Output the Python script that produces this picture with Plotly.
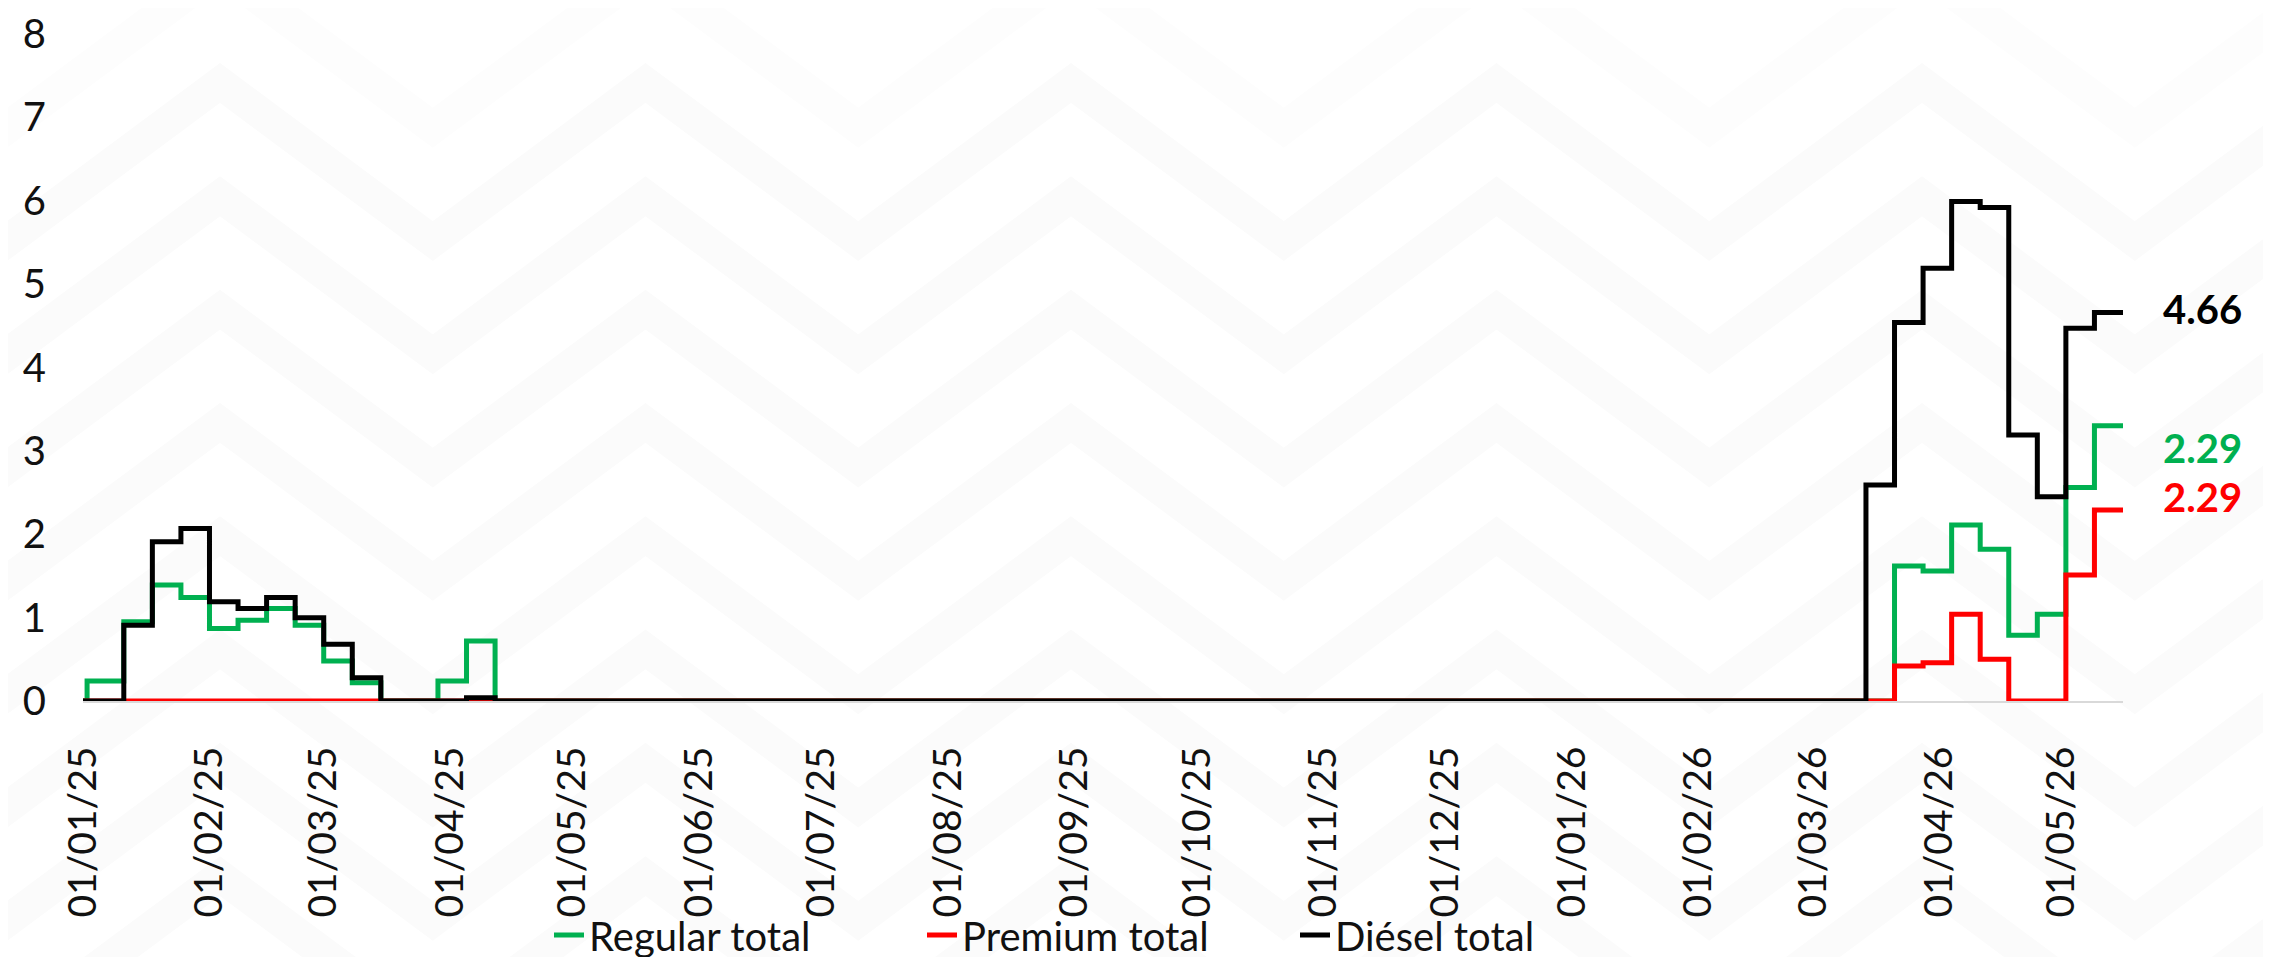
import plotly.graph_objects as go

# ---- data (weekly change dates; values hold until next date) ----
dates = [
    "2025-01-01", "2025-01-02", "2025-01-11", "2025-01-18", "2025-01-25",
    "2025-02-01", "2025-02-08", "2025-02-15", "2025-02-22", "2025-03-01",
    "2025-03-08", "2025-03-15", "2025-03-29", "2025-04-05", "2025-04-12",
    "2026-03-14", "2026-03-21", "2026-03-28", "2026-04-04", "2026-04-11",
    "2026-04-18", "2026-04-25", "2026-05-02", "2026-05-09", "2026-05-16",
]
regular = [0, 0.24, 0.95, 1.39, 1.24, 0.87, 0.97, 1.11, 0.91, 0.48, 0.22, 0, 0.24, 0.72, 0,
           0, 1.62, 1.56, 2.11, 1.82, 0.79, 1.04, 2.56, 3.30, 3.30]
premium = [0, 0, 0, 0, 0, 0, 0, 0, 0, 0, 0, 0, 0, 0, 0,
           0, 0.42, 0.46, 1.04, 0.50, 0, 0, 1.51, 2.29, 2.29]
diesel = [0, 0, 0.91, 1.91, 2.07, 1.19, 1.11, 1.24, 1.00, 0.68, 0.28, 0, 0, 0.04, 0,
          2.59, 4.54, 5.19, 5.99, 5.92, 3.19, 2.45, 4.47, 4.66, 4.66]

series_names = ["Regular total", "Premium total", "Diésel total"]
series_colors = ["#00B050", "#FF0000", "#000000"]
end_labels = ["2.29", "2.29", "4.66"]
y_ticks = [0, 1, 2, 3, 4, 5, 6, 7, 8]

FONT = "Lato"
W, H = 2271, 957
L, R, T, B = 75, 156, 26, 264
PW, PH = W - L - R, H - T - B

fig = go.Figure()
for name, vals, col in zip(series_names, [regular, premium, diesel], series_colors):
    fig.add_trace(go.Scatter(
        x=dates, y=vals, name=name, mode="lines",
        line=dict(color=col, width=5, shape="hv"),
    ))

# ---- faint chevron watermark (decoration) ----
def px2paper(px, py):
    return (px - L) / PW, (H - B - py) / PH

shapes = []
period = 425.5
peak0 = 212.0
amp = 158.0
for k in range(-1, 9):
    yc = 75 + 113.3 * k
    pts = []
    for j in range(-2, 7):
        xp = peak0 + period * j
        pts.append(px2paper(xp, yc))
        pts.append(px2paper(xp + period / 2, yc + amp))
    path = "M " + " L ".join(f"{a:.5f},{b:.5f}" for a, b in pts)
    shapes.append(dict(
        type="path", xref="paper", yref="paper", path=path,
        line=dict(color="#fdfdfd" if k < 0 else "#fbfbfb", width=32),
        layer="below",
    ))

# ---- end labels ----
shifts = [-22.5, 13, 3]
annotations = []
for vals, col, txt, ys in zip([regular, premium, diesel], series_colors, end_labels, shifts):
    annotations.append(dict(
        x=dates[-1], y=vals[-1], xref="x", yref="y", text=txt,
        showarrow=False, xanchor="left", yanchor="middle", xshift=38, yshift=ys,
        font=dict(family=FONT, size=40, color=col, weight=700),
    ))

fig.update_layout(
    width=W, height=H,
    margin=dict(l=L, r=R, t=T, b=B, autoexpand=False),
    paper_bgcolor="white", plot_bgcolor="rgba(0,0,0,0)",
    font=dict(family=FONT, color="#111111"),
    shapes=shapes, annotations=annotations,
    showlegend=True,
    legend=dict(
        orientation="h", x=(541 - L) / PW, xanchor="left", y=(H - B - 927) / PH, yanchor="middle",
        font=dict(family=FONT, size=40, color="#111111"),
        bgcolor="rgba(0,0,0,0)", entrywidth=328, entrywidthmode="pixels",
    ),
)
fig.update_xaxes(
    type="date", range=[dates[0], dates[-1]],
    tick0="2025-01-01", dtick="M1", tickformat="%d/%m/%y", tickangle=-90,
    showgrid=False, zeroline=False, showline=True, linecolor="#d9d9d9", linewidth=2,
    layer="below traces", ticks="", ticklabelstandoff=28,
    tickfont=dict(family=FONT, size=39, color="#111111"), automargin=False,
)
fig.update_yaxes(
    range=[0, 8], tickvals=y_ticks, showgrid=False, zeroline=False, showline=False,
    ticks="", ticklabelstandoff=36,
    tickfont=dict(family=FONT, size=40, color="#111111"), automargin=False,
)

fig.write_html("out.html")
